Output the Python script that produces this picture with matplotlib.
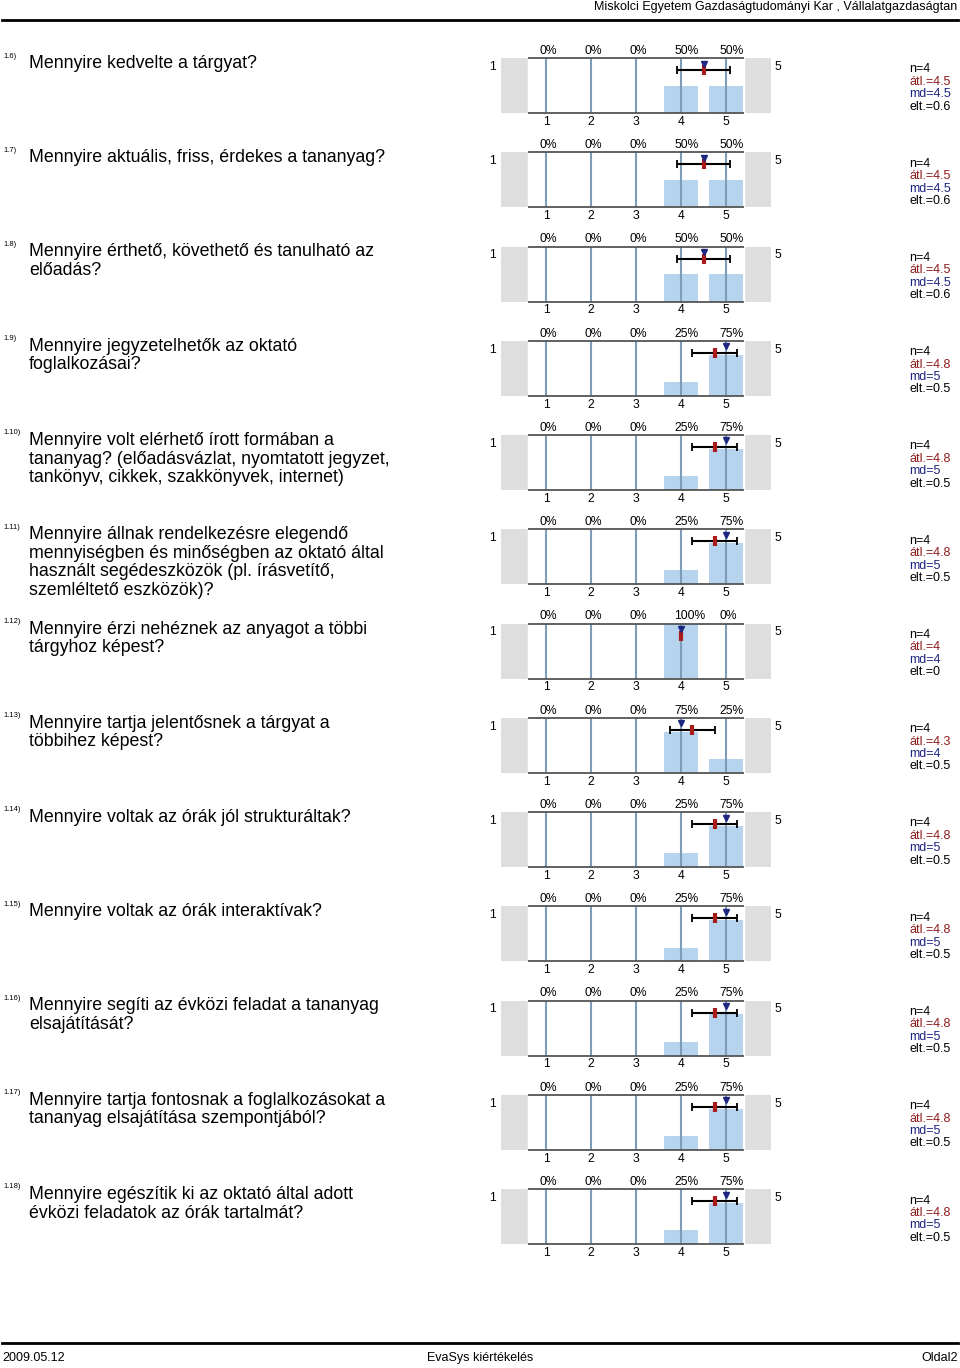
import matplotlib
matplotlib.use("Agg")
import matplotlib.pyplot as plt
from matplotlib.lines import Line2D
from decimal import Decimal, ROUND_HALF_UP

plt.rcParams['font.family'] = ['Liberation Sans', 'DejaVu Sans']

# adatok
szamok = ['1.6)', '1.7)', '1.8)', '1.9)', '1.10)', '1.11)', '1.12)', '1.13)',
          '1.14)', '1.15)', '1.16)', '1.17)', '1.18)']
kerdesek = [
    'Mennyire kedvelte a tárgyat?',
    'Mennyire aktuális, friss, érdekes a tananyag?',
    'Mennyire érthető, követhető és tanulható az\nelőadás?',
    'Mennyire jegyzetelhetők az oktató\nfoglalkozásai?',
    'Mennyire volt elérhető írott formában a\ntananyag? (előadásvázlat, nyomtatott jegyzet,\ntankönyv, cikkek, szakkönyvek, internet)',
    'Mennyire állnak rendelkezésre elegendő\nmennyiségben és minőségben az oktató által\nhasznált segédeszközök (pl. írásvetítő,\nszemléltető eszközök)?',
    'Mennyire érzi nehéznek az anyagot a többi\ntárgyhoz képest?',
    'Mennyire tartja jelentősnek a tárgyat a\ntöbbihez képest?',
    'Mennyire voltak az órák jól strukturáltak?',
    'Mennyire voltak az órák interaktívak?',
    'Mennyire segíti az évközi feladat a tananyag\nelsajátítását?',
    'Mennyire tartja fontosnak a foglalkozásokat a\ntananyag elsajátítása szempontjából?',
    'Mennyire egészítik ki az oktató által adott\névközi feladatok az órák tartalmát?',
]
skala = [1, 2, 3, 4, 5]
szazalekok = [
    [0, 0, 0, 50, 50],
    [0, 0, 0, 50, 50],
    [0, 0, 0, 50, 50],
    [0, 0, 0, 25, 75],
    [0, 0, 0, 25, 75],
    [0, 0, 0, 25, 75],
    [0, 0, 0, 100, 0],
    [0, 0, 0, 75, 25],
    [0, 0, 0, 25, 75],
    [0, 0, 0, 25, 75],
    [0, 0, 0, 25, 75],
    [0, 0, 0, 25, 75],
    [0, 0, 0, 25, 75],
]
n_db = [4] * 13
atlag = [4.5, 4.5, 4.5, 4.75, 4.75, 4.75, 4.0, 4.25, 4.75, 4.75, 4.75, 4.75, 4.75]
median = [4.5, 4.5, 4.5, 5, 5, 5, 4, 4, 5, 5, 5, 5, 5]
szoras = [0.58, 0.58, 0.58, 0.5, 0.5, 0.5, 0.0, 0.5, 0.5, 0.5, 0.5, 0.5, 0.5]

W, H = 960, 1368
fig = plt.figure(figsize=(W / 100, H / 100), dpi=100)


def fx(x):
    return x / W


def fy(y):
    return 1 - y / H


def kerekit(v):
    s = Decimal(str(v)).quantize(Decimal('0.1'), rounding=ROUND_HALF_UP)
    return ('%s' % s).rstrip('0').rstrip('.')


# fejlec es lablec
fig.add_artist(Line2D([fx(2), fx(958)], [fy(20), fy(20)], color='black', lw=2))
fig.text(fx(957), fy(7), 'Miskolci Egyetem Gazdaságtudományi Kar , Vállalatgazdaságtan',
         ha='right', va='center', fontsize=9)
fig.add_artist(Line2D([fx(2), fx(958)], [fy(1343), fy(1343)], color='black', lw=2))
lablec_font = ['Liberation Sans Narrow', 'Liberation Sans', 'DejaVu Sans']
fig.text(fx(2), fy(1358), '2009.05.12', ha='left', va='center', fontsize=9, family=lablec_font)
fig.text(fx(480), fy(1358), 'EvaSys kiértékelés', ha='center', va='center', fontsize=9,
         family=lablec_font)
fig.text(fx(958), fy(1358), 'Oldal2', ha='right', va='center', fontsize=9, family=lablec_font)

kis = 8.7

for i in range(len(kerdesek)):
    top = 58 + 94.25 * i
    bottom = top + 55

    fig.text(fx(3), fy(top - 2), szamok[i], ha='left', va='center', fontsize=5.5)
    fig.text(fx(29), fy(top - 3), kerdesek[i], ha='left', va='top', fontsize=12.75,
             linespacing=1.12)

    ax = fig.add_axes([fx(501), fy(bottom), 270 / W, 55 / H])
    ax.set_facecolor('#dedede')
    ax.set_xlim(0, 6)
    ax.set_ylim(0, 1)
    ax.axvspan(0.6, 5.4, color='white', zorder=0)
    for s in ax.spines.values():
        s.set_visible(False)

    ax.bar(skala, [p / 100 for p in szazalekok[i]], width=0.76, color='#b7d4ee', zorder=1)
    ax.vlines(skala, 0, 1, color='#7c9cb8', lw=1.5, zorder=2)
    ax.hlines([0, 1], 0.6, 5.4, color='#555555', lw=1.3, zorder=3, clip_on=False)

    if szoras[i] > 0:
        ax.errorbar(atlag[i], 0.78, xerr=szoras[i], fmt='none', ecolor='black',
                    elinewidth=1.5, capsize=3.2, capthick=1.3, zorder=4)
    ax.plot(atlag[i], 0.78, marker='|', ms=6.5, mew=3, color='#a81c1c', zorder=5)
    ax.plot(median[i], 0.9, marker='v', ms=5, color='#1d2580', mec='#1d2580', zorder=6)

    ax.set_xticks(skala)
    ax.set_xticklabels([str(k) for k in skala])
    ax.set_yticks([])
    ax.tick_params(axis='x', length=0, labelsize=kis, pad=2)
    for k, p in zip(skala, szazalekok[i]):
        ax.annotate('%d%%' % p, (k, 1), xytext=(-4.8, 5.2), textcoords='offset points',
                    ha='left', va='center', fontsize=kis, annotation_clip=False)
    ax.text(-0.2, 0.84, '1', ha='center', va='center', fontsize=kis, clip_on=False)
    ax.text(6.16, 0.84, '5', ha='center', va='center', fontsize=kis, clip_on=False)

    # statisztika
    stat = [('n=%d' % n_db[i], 'black'),
            ('átl.=' + kerekit(atlag[i]), '#8e1a1a'),
            ('md=' + kerekit(median[i]), '#1d2580'),
            ('elt.=' + kerekit(szoras[i]), 'black')]
    for j, (t, c) in enumerate(stat):
        fig.text(fx(909), fy(top + 11.5 + 12.4 * j), t, ha='left', va='center',
                 fontsize=9, color=c)

fig.savefig('out.png', dpi=100)
